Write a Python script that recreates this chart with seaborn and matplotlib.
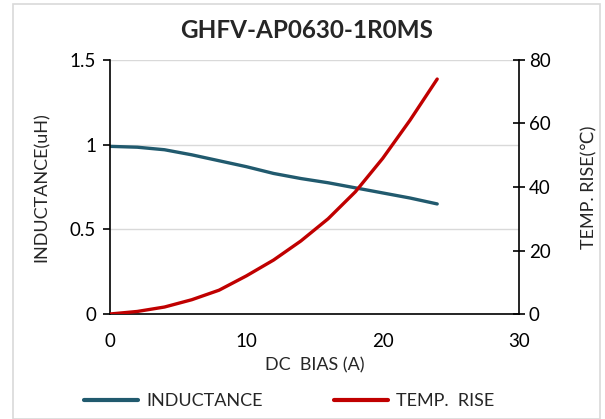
import matplotlib
matplotlib.use("Agg")
import matplotlib.pyplot as plt
import seaborn as sns
import pandas as pd
from matplotlib.patches import Rectangle
from matplotlib.lines import Line2D

# values
dc_bias = [0, 2, 4, 6, 8, 10, 12, 14, 16, 18, 20, 22, 24]
inductance = [0.99, 0.985, 0.97, 0.94, 0.905, 0.87, 0.83, 0.80, 0.775, 0.745, 0.715, 0.685, 0.65]
temp_rise = [0, 0.8, 2.2, 4.5, 7.5, 12, 17, 23, 30, 38.5, 49, 61, 74]

x_ticks = [0, 10, 20, 30]
l_ticks = [0, 0.5, 1, 1.5]
l_tick_labels = ["0", "0.5", "1", "1.5"]
t_ticks = [0, 20, 40, 60, 80]

df = pd.DataFrame({"bias": dc_bias, "L": inductance, "T": temp_rise})

sns.set_style("white")
plt.rcParams["font.family"] = ["Lato", "DejaVu Sans"]

fig = plt.figure(figsize=(6.05, 4.19), dpi=100)
fig.patches.append(Rectangle((13 / 605, 0.0), 587 / 605, 415 / 419, transform=fig.transFigure,
                             fill=False, edgecolor="#d9d9d9", linewidth=1.2))
ax = fig.add_axes([110 / 605, 1 - 314 / 419, 409 / 605, 254 / 419])
ax2 = ax.twinx()

blue = "#215a6e"
red = "#c00000"

sns.lineplot(data=df, x="bias", y="L", ax=ax, color=blue, linewidth=2.4)
sns.lineplot(data=df, x="bias", y="T", ax=ax2, color=red, linewidth=2.4)

ax.set_xlim(0, 30)
ax.set_ylim(0, 1.5)
ax2.set_ylim(0, 80)
ax.set_xticks(x_ticks)
ax.set_yticks(l_ticks)
ax.set_yticklabels(l_tick_labels)
ax2.set_yticks(t_ticks)

ax.grid(axis="y", color="#d9d9d9", linewidth=1)
ax.set_axisbelow(True)
for a in (ax, ax2):
    a.spines["top"].set_visible(False)
    for s in ("left", "right", "bottom"):
        a.spines[s].set_color("black")
        a.spines[s].set_linewidth(1.2)
ax.spines["right"].set_visible(False)
ax2.spines["left"].set_visible(False)
ax2.spines["bottom"].set_visible(False)

ax.tick_params(axis="y", direction="out", length=5, width=1.2, labelsize=13.5, colors="black", pad=5)
ax.tick_params(axis="x", direction="out", length=5, width=1.2, labelsize=13.5, colors="black", pad=9)
ax2.tick_params(axis="y", direction="inout", length=8, width=1.2, labelsize=13.5, colors="black", pad=3)

ax.set_xlabel("DC  BIAS (A)", fontsize=13, labelpad=5)
ax.set_ylabel("INDUCTANCE(uH)", fontsize=13, labelpad=14)
ax2.set_ylabel("TEMP. RISE(℃)", fontsize=13, labelpad=22)

fig.suptitle("GHFV-AP0630-1R0MS", x=0.507, y=0.955, fontsize=17.5, fontweight="bold")

handles = [Line2D([], [], color=blue, linewidth=3), Line2D([], [], color=red, linewidth=3)]
fig.legend(handles, ["INDUCTANCE", "TEMP.  RISE"], loc="center", bbox_to_anchor=(0.478, 0.043),
           ncol=2, frameon=False, fontsize=13, handlelength=3.0, handletextpad=0.45, columnspacing=3.9)

fig.savefig("out.png", dpi=100)
